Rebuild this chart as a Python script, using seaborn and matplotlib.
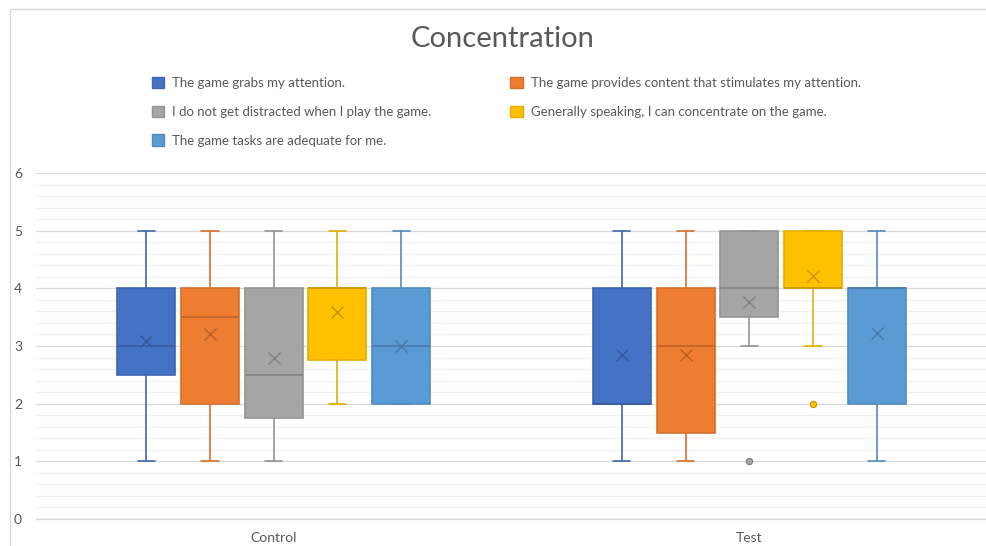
import matplotlib
matplotlib.use("Agg")
import matplotlib.pyplot as plt
import matplotlib.colors as mcolors
from matplotlib.patches import Patch, Rectangle
from matplotlib.ticker import MultipleLocator
import seaborn as sns

# ---- data: five-number summaries per group and statement ----
groups = ["Control", "Test"]
statements = [
    "The game grabs my attention.",
    "The game provides content that stimulates my attention.",
    "I do not get distracted when I play the game.",
    "Generally speaking, I can concentrate on the game.",
    "The game tasks are adequate for me.",
]
palette = ["#4472C4", "#ED7D31", "#A5A5A5", "#FFC000", "#5B9BD5"]

control_whislo = [1, 1, 1, 2, 2]
control_q1 = [2.5, 2, 1.75, 2.75, 2]
control_median = [3, 3.5, 2.5, 4, 3]
control_q3 = [4, 4, 4, 4, 4]
control_whishi = [5, 5, 5, 5, 5]
control_mean = [3.08, 3.2, 2.8, 3.59, 3.0]
control_outliers = [[], [], [], [], []]

test_whislo = [1, 1, 3, 3, 1]
test_q1 = [2, 1.5, 3.5, 4, 2]
test_median = [2, 3, 4, 4, 4]
test_q3 = [4, 4, 5, 5, 4]
test_whishi = [5, 5, 5, 5, 5]
test_mean = [2.85, 2.85, 3.77, 4.22, 3.23]
test_outliers = [[], [], [1], [2], []]

summaries = {
    "Control": (control_whislo, control_q1, control_median, control_q3,
                control_whishi, control_mean, control_outliers),
    "Test": (test_whislo, test_q1, test_median, test_q3,
             test_whishi, test_mean, test_outliers),
}

sns.set_theme(style="white")
plt.rcParams["font.family"] = ["Lato", "DejaVu Sans"]

text_col = "#595959"
grid_major = "#D9D9D9"
grid_minor = "#F0F0F0"


def shade(c, f):
    r, g, b = mcolors.to_rgb(c)
    return (r * f, g * f, b * f)


fig = plt.figure(figsize=(9.87, 5.46), dpi=100)
ax = fig.add_axes([36 / 987, 1 - 519 / 546, 951 / 987, (519 - 173) / 546])

spacing = 0.134
width = 0.122
for gi, g in enumerate(groups):
    wl, q1, md, q3, wh, mn, out = summaries[g]
    for si in range(len(statements)):
        col = palette[si]
        edge = shade(col, 0.9)
        dark = shade(col, 0.78)
        pos = gi + 0.5 + (si - 2) * spacing
        stats = [dict(whislo=wl[si], q1=q1[si], med=md[si], q3=q3[si],
                      whishi=wh[si], mean=mn[si], fliers=out[si])]
        ax.bxp(
            stats, positions=[pos], widths=width, patch_artist=True,
            showmeans=True, showfliers=True, manage_ticks=False,
            boxprops=dict(facecolor=col, edgecolor=edge, linewidth=1.2),
            whiskerprops=dict(color=edge, linewidth=1.2),
            capprops=dict(color=edge, linewidth=1.2),
            capwidths=0.036,
            medianprops=dict(color=dark, linewidth=1.1),
            meanprops=dict(marker="x", markeredgecolor=dark, markersize=9,
                           markeredgewidth=1.0),
            flierprops=dict(marker="o", markerfacecolor=col,
                            markeredgecolor=dark, markersize=4.5,
                            markeredgewidth=0.8),
            zorder=3,
        )

ax.set_xlim(0, 2)
ax.set_ylim(0, 6)
ax.yaxis.set_major_locator(MultipleLocator(1))
ax.yaxis.set_minor_locator(MultipleLocator(0.2))
ax.grid(which="major", axis="y", color=grid_major, linewidth=0.9, zorder=0)
ax.grid(which="minor", axis="y", color=grid_minor, linewidth=0.9, zorder=0)
ax.set_axisbelow(True)
ax.set_xticks([0.5, 1.5])
ax.set_xticklabels(groups)
ax.tick_params(axis="both", length=0, labelsize=10, colors=text_col)
ax.tick_params(axis="y", pad=10)
ax.tick_params(axis="x", pad=9)
for side in ["top", "right", "left"]:
    ax.spines[side].set_visible(False)
ax.spines["bottom"].set_color(grid_major)
ax.spines["bottom"].set_linewidth(1.0)
ax.patch.set_alpha(0)

fig.text(503 / 987, 1 - 39 / 546, "Concentration", ha="center", va="center",
         fontsize=21, color=text_col)

handles = [Patch(facecolor=palette[i], edgecolor=shade(palette[i], 0.9),
                 linewidth=1.0, label=statements[i]) for i in range(5)]
order = [0, 2, 4, 1, 3]
leg = fig.legend(
    [handles[i] for i in order], [statements[i] for i in order],
    ncol=2, loc="upper left", bbox_to_anchor=(140 / 987, 1 - 65 / 546),
    frameon=False, fontsize=9.5, handlelength=0.95, handleheight=0.95,
    handletextpad=0.6, labelspacing=1.25, columnspacing=5.95,
    labelcolor=text_col,
)

fig.add_artist(Rectangle((10 / 987, -0.1), 1.2, 1.1 - 9 / 546,
                         transform=fig.transFigure, fill=False,
                         edgecolor=grid_major, linewidth=1.0))

fig.savefig("out.png", dpi=100, facecolor="white")
